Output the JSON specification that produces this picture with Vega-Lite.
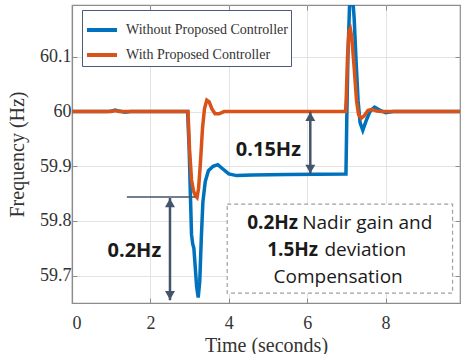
{
  "$schema": "https://vega.github.io/schema/vega-lite/v6.json",
  "width": 388,
  "height": 298,
  "autosize": {"type": "none"},
  "padding": {"left": 72, "top": 5, "right": 14, "bottom": 51},
  "config": {
    "font": "Liberation Serif",
    "view": {"stroke": "#8c8c8c", "strokeWidth": 1.2},
    "axis": {
      "labelFont": "Liberation Serif", "labelFontSize": 18, "labelColor": "#333333",
      "titleFont": "Liberation Serif", "titleFontSize": 20, "titleFontWeight": "normal", "titleColor": "#333333",
      "gridColor": "#e3e3e3", "gridWidth": 1,
      "domainColor": "#8c8c8c", "domainWidth": 1.2,
      "tickColor": "#8c8c8c", "tickSize": -5
    }
  },
  "datasets": {
    "without": [
      {"t": 0, "f": 60}, {"t": 0.9, "f": 60}, {"t": 1.02, "f": 60.001}, {"t": 1.1, "f": 60.003}, {"t": 1.2, "f": 60.001},
      {"t": 1.35, "f": 59.999}, {"t": 1.5, "f": 60}, {"t": 2.95, "f": 60}, {"t": 2.99, "f": 59.93}, {"t": 3.02, "f": 59.85},
      {"t": 3.05, "f": 59.775}, {"t": 3.08, "f": 59.758}, {"t": 3.11, "f": 59.75}, {"t": 3.14, "f": 59.72}, {"t": 3.18, "f": 59.68},
      {"t": 3.22, "f": 59.66}, {"t": 3.26, "f": 59.69}, {"t": 3.3, "f": 59.77}, {"t": 3.34, "f": 59.835}, {"t": 3.4, "f": 59.872},
      {"t": 3.48, "f": 59.892}, {"t": 3.6, "f": 59.9}, {"t": 3.72, "f": 59.903}, {"t": 3.85, "f": 59.895}, {"t": 4.0, "f": 59.886},
      {"t": 4.2, "f": 59.883}, {"t": 4.6, "f": 59.884}, {"t": 5.5, "f": 59.885}, {"t": 6.99, "f": 59.886}, {"t": 7.01, "f": 59.98},
      {"t": 7.04, "f": 60.1}, {"t": 7.08, "f": 60.19}, {"t": 7.12, "f": 60.215}, {"t": 7.16, "f": 60.21}, {"t": 7.2, "f": 60.17},
      {"t": 7.25, "f": 60.09}, {"t": 7.3, "f": 60.02}, {"t": 7.35, "f": 59.98}, {"t": 7.42, "f": 59.966}, {"t": 7.5, "f": 59.982},
      {"t": 7.6, "f": 60.0}, {"t": 7.72, "f": 60.008}, {"t": 7.85, "f": 60.003}, {"t": 8.0, "f": 59.998}, {"t": 8.2, "f": 60},
      {"t": 9.9, "f": 60}
    ],
    "with": [
      {"t": 0, "f": 60}, {"t": 1.0, "f": 60}, {"t": 1.1, "f": 60.002}, {"t": 1.2, "f": 60}, {"t": 2.96, "f": 60},
      {"t": 3.0, "f": 59.93}, {"t": 3.05, "f": 59.875}, {"t": 3.1, "f": 59.855}, {"t": 3.15, "f": 59.846}, {"t": 3.19, "f": 59.843},
      {"t": 3.23, "f": 59.86}, {"t": 3.28, "f": 59.91}, {"t": 3.33, "f": 59.97}, {"t": 3.38, "f": 60.005}, {"t": 3.44, "f": 60.021},
      {"t": 3.5, "f": 60.018}, {"t": 3.57, "f": 60.005}, {"t": 3.65, "f": 59.996}, {"t": 3.75, "f": 59.996}, {"t": 3.88, "f": 60},
      {"t": 6.98, "f": 60}, {"t": 7.0, "f": 60.03}, {"t": 7.03, "f": 60.1}, {"t": 7.07, "f": 60.148}, {"t": 7.1, "f": 60.152},
      {"t": 7.14, "f": 60.135}, {"t": 7.2, "f": 60.08}, {"t": 7.26, "f": 60.02}, {"t": 7.31, "f": 59.995}, {"t": 7.38, "f": 59.988},
      {"t": 7.45, "f": 59.992}, {"t": 7.55, "f": 60.002}, {"t": 7.65, "f": 60.004}, {"t": 7.78, "f": 60.001}, {"t": 7.9, "f": 60},
      {"t": 9.9, "f": 60}
    ],
    "box": [{"x": 3.96, "x2": 9.71, "y": 59.831, "y2": 59.668}],
    "hline": [{"x": 1.4, "x2": 3.14, "y": 59.844}],
    "arrows": [{"x": 6.08, "y": 60.0, "y2": 59.886}, {"x": 2.5, "y": 59.842, "y2": 59.655}],
    "headsUp": [{"x": 6.08, "y": 59.9908}, {"x": 2.5, "y": 59.833}],
    "headsDown": [{"x": 6.08, "y": 59.895}, {"x": 2.5, "y": 59.664}],
    "boldCenter": [{"x": 5.01, "y": 59.93, "text": "0.15Hz"}, {"x": 1.59, "y": 59.745, "text": "0.2Hz"}],
    "boldRight": [{"x": 5.77, "y": 59.796, "text": "0.2Hz"}, {"x": 6.28, "y": 59.747, "text": "1.5Hz"}],
    "regLeft": [{"x": 5.875, "y": 59.796, "text": "Nadir gain and"}, {"x": 6.44, "y": 59.747, "text": "deviation"}],
    "regCenter": [{"x": 6.79, "y": 59.697, "text": "Compensation"}]
  },
  "layer": [
    {
      "data": {"name": "without"},
      "mark": {"type": "line", "strokeWidth": 3.5, "clip": true},
      "encoding": {
        "x": {"field": "t", "type": "quantitative", "scale": {"domain": [0, 9.9], "nice": false, "zero": false},
          "axis": {"orient": "bottom", "values": [0, 2, 4, 6, 8], "title": "Time (seconds)", "grid": true, "labelPadding": 16, "titlePadding": 3}},
        "y": {"field": "f", "type": "quantitative", "scale": {"domain": [59.65, 60.195], "nice": false, "zero": false},
          "axis": {"orient": "left", "values": [59.7, 59.8, 59.9, 60, 60.1], "format": "~g", "title": "Frequency (Hz)", "grid": true, "labelPadding": 6, "titlePadding": 12}},
        "color": {"datum": "Without Proposed Controller", "type": "nominal",
          "scale": {"domain": ["Without Proposed Controller", "With Proposed Controller"], "range": ["#0072BD", "#D95319"]},
          "legend": {"orient": "none", "legendX": 10, "legendY": 5, "title": null, "symbolType": "stroke", "symbolSize": 900,
            "symbolStrokeWidth": 4, "labelFont": "Liberation Serif", "labelFontSize": 14, "labelColor": "#333333", "labelLimit": 400,
            "strokeColor": "#4a5a78", "fillColor": "white", "padding": 3, "rowPadding": 0, "labelOffset": 7}}
      }
    },
    {
      "data": {"name": "with"},
      "mark": {"type": "line", "strokeWidth": 3.5, "clip": true},
      "encoding": {
        "x": {"field": "t", "type": "quantitative", "axis": {"orient": "top", "values": [0, 2, 4, 6, 8], "labels": false, "domain": false, "grid": false, "title": null}},
        "y": {"field": "f", "type": "quantitative", "axis": {"orient": "right", "values": [59.7, 59.8, 59.9, 60, 60.1], "labels": false, "domain": false, "grid": false, "title": null}},
        "color": {"datum": "With Proposed Controller", "type": "nominal"}
      }
    },
    {
      "data": {"name": "box"},
      "mark": {"type": "rect", "fill": "white", "stroke": "#a0a0a0", "strokeWidth": 1.2, "strokeDash": [4, 3]},
      "encoding": {
        "x": {"field": "x", "type": "quantitative", "axis": null}, "x2": {"field": "x2"},
        "y": {"field": "y", "type": "quantitative", "axis": null}, "y2": {"field": "y2"}
      }
    },
    {
      "data": {"name": "hline"},
      "mark": {"type": "rule", "color": "#44546A", "strokeWidth": 1.5},
      "encoding": {
        "x": {"field": "x", "type": "quantitative", "axis": null}, "x2": {"field": "x2"},
        "y": {"field": "y", "type": "quantitative", "axis": null}
      }
    },
    {
      "data": {"name": "arrows"},
      "mark": {"type": "rule", "color": "#44546A", "strokeWidth": 2.5},
      "encoding": {
        "x": {"field": "x", "type": "quantitative", "axis": null},
        "y": {"field": "y", "type": "quantitative", "axis": null}, "y2": {"field": "y2"}
      }
    },
    {
      "data": {"name": "headsUp"},
      "mark": {"type": "point", "shape": "triangle-up", "filled": true, "size": 100, "color": "#44546A", "opacity": 1},
      "encoding": {
        "x": {"field": "x", "type": "quantitative", "axis": null},
        "y": {"field": "y", "type": "quantitative", "axis": null}
      }
    },
    {
      "data": {"name": "headsDown"},
      "mark": {"type": "point", "shape": "triangle-down", "filled": true, "size": 100, "color": "#44546A", "opacity": 1},
      "encoding": {
        "x": {"field": "x", "type": "quantitative", "axis": null},
        "y": {"field": "y", "type": "quantitative", "axis": null}
      }
    },
    {
      "data": {"name": "boldCenter"},
      "mark": {"type": "text", "font": "Open Sans", "fontSize": 20, "fontWeight": "bold", "color": "#1a1a1a", "align": "center", "baseline": "middle"},
      "encoding": {
        "x": {"field": "x", "type": "quantitative", "axis": null},
        "y": {"field": "y", "type": "quantitative", "axis": null},
        "text": {"field": "text"}
      }
    },
    {
      "data": {"name": "boldRight"},
      "mark": {"type": "text", "font": "Open Sans", "fontSize": 19, "fontWeight": "bold", "color": "#1a1a1a", "align": "right", "baseline": "middle"},
      "encoding": {
        "x": {"field": "x", "type": "quantitative", "axis": null},
        "y": {"field": "y", "type": "quantitative", "axis": null},
        "text": {"field": "text"}
      }
    },
    {
      "data": {"name": "regLeft"},
      "mark": {"type": "text", "font": "Open Sans", "fontSize": 19, "color": "#1a1a1a", "align": "left", "baseline": "middle"},
      "encoding": {
        "x": {"field": "x", "type": "quantitative", "axis": null},
        "y": {"field": "y", "type": "quantitative", "axis": null},
        "text": {"field": "text"}
      }
    },
    {
      "data": {"name": "regCenter"},
      "mark": {"type": "text", "font": "Open Sans", "fontSize": 19, "color": "#1a1a1a", "align": "center", "baseline": "middle"},
      "encoding": {
        "x": {"field": "x", "type": "quantitative", "axis": null},
        "y": {"field": "y", "type": "quantitative", "axis": null},
        "text": {"field": "text"}
      }
    }
  ],
  "resolve": {"axis": {"x": "independent", "y": "independent"}}
}
